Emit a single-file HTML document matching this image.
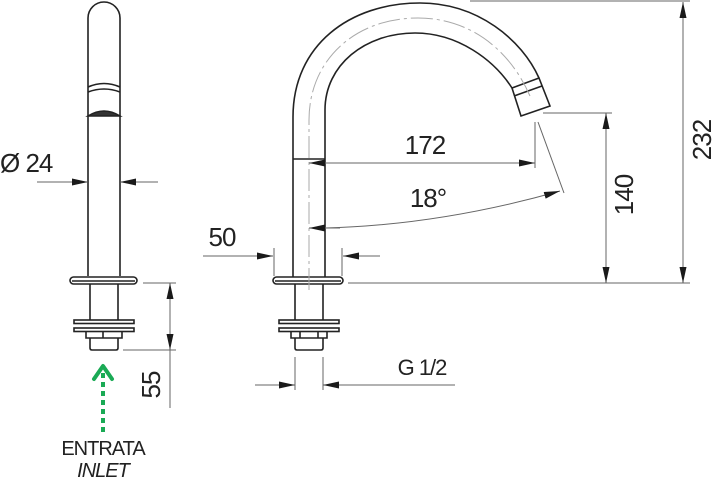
<!DOCTYPE html>
<html><head><style>html,body{margin:0;padding:0;background:#fff}svg{display:block}</style></head><body>
<svg width="712" height="480" viewBox="0 0 712 480" xmlns="http://www.w3.org/2000/svg" font-family="Liberation Sans, sans-serif">
<defs>
<marker id="a" viewBox="0 0 16 7" refX="16" refY="3.5" markerWidth="16" markerHeight="7" markerUnits="userSpaceOnUse" orient="auto"><path d="M0,0L16,3.5L0,7z" fill="#1a1a1a"/></marker>
</defs>
<g fill="none" stroke="#222" stroke-width="1.6">
<path d="M88,276 L88,18 A16,16 0 0 1 120,18 L120,276"/>
<path d="M88,87 Q104,80 120,87 M88,92 Q104,86 120,92"/>
<path d="M88,116 Q104,106 120,116 Z" fill="#333"/>
<rect x="70" y="277" width="67" height="7" rx="3.5" fill="#fff"/>
<line x1="72" y1="281" x2="135" y2="281"/>
<path d="M90,284 L90,320 M118,284 L118,320"/>
<rect x="74" y="320" width="60" height="3.5" fill="#fff"/>
<rect x="74" y="328" width="60" height="3.5" fill="#fff"/>
<path d="M86,332 L86,338 L122,338 L122,332 M103,332 L103,338"/>
<path d="M90,338 L90,348 Q90,350 92,350 L116,350 Q118,350 118,348 L118,338"/>
<path d="M293,277 L293,117 C293,45 350,3 420,3 C478,3 522,40 539,78"/>
<path d="M325,277 L325,110 C325,65 365,33 415,33 C458,33 494,60 512,88"/>
<line x1="293" y1="159" x2="325" y2="159"/>
<path d="M512,88 L539,78 L550,106 L521,116 Z" fill="#fff"/>
<line x1="514" y1="96" x2="542" y2="86"/>
<rect x="273" y="277" width="70" height="7" rx="3.5" fill="#fff"/>
<line x1="275" y1="281" x2="341" y2="281"/>
<path d="M295,284 L295,320 M323,284 L323,320"/>
<rect x="279" y="320" width="60" height="3.5" fill="#fff"/>
<rect x="279" y="328" width="60" height="3.5" fill="#fff"/>
<path d="M291,332 L291,338 L327,338 L327,332 M300,332 L300,338 M318,332 L318,338"/>
<path d="M295,338 L295,348 Q295,350 297,350 L321,350 Q323,350 323,348 L323,338"/>
</g>
<path d="M309,290 L309,120 C309,60 355,18 418,18 C470,18 510,50 530,96" fill="none" stroke="#aaa" stroke-width="1" stroke-dasharray="22,4,3,4"/>
<g fill="none" stroke="#666" stroke-width="1">
<line x1="37" y1="182" x2="88" y2="182" marker-end="url(#a)"/>
<line x1="158" y1="182" x2="120" y2="182" marker-end="url(#a)"/>
<line x1="143" y1="283" x2="176" y2="283"/>
<line x1="123" y1="350" x2="176" y2="350"/>
<line x1="170" y1="350" x2="170" y2="408"/>
<line x1="170" y1="317" x2="170" y2="283" marker-end="url(#a)"/>
<line x1="170" y1="317" x2="170" y2="350" marker-end="url(#a)"/>
<line x1="535" y1="122" x2="535" y2="168"/>
<line x1="420" y1="163" x2="309" y2="163" marker-end="url(#a)"/>
<line x1="420" y1="163" x2="535" y2="163" marker-end="url(#a)"/>
<line x1="538" y1="122" x2="564" y2="193"/>
<path d="M325,228 Q440,225 560,191" marker-end="url(#a)"/>
<line x1="340" y1="228" x2="309" y2="228" marker-end="url(#a)"/>
<line x1="203" y1="256" x2="273" y2="256" marker-end="url(#a)"/>
<line x1="380" y1="256" x2="343" y2="256" marker-end="url(#a)"/>
<line x1="274" y1="248" x2="274" y2="276"/>
<line x1="342" y1="248" x2="342" y2="276"/>
<line x1="295" y1="357" x2="295" y2="390"/>
<line x1="323" y1="357" x2="323" y2="390"/>
<line x1="255" y1="385" x2="295" y2="385" marker-end="url(#a)"/>
<line x1="455" y1="385" x2="323" y2="385" marker-end="url(#a)"/>
<line x1="348" y1="283" x2="690" y2="283"/>
<line x1="543" y1="113" x2="612" y2="113"/>
<line x1="470" y1="1" x2="690" y2="1"/>
<line x1="606" y1="198" x2="606" y2="113" marker-end="url(#a)"/>
<line x1="606" y1="198" x2="606" y2="283" marker-end="url(#a)"/>
<line x1="683" y1="140" x2="683" y2="2" marker-end="url(#a)"/>
<line x1="683" y1="140" x2="683" y2="283" marker-end="url(#a)"/>
</g>
<line x1="103" y1="432" x2="103" y2="368" stroke="#1aaa55" stroke-width="4" stroke-dasharray="5,4"/>
<path d="M94,379 L103,366 L112,379" fill="none" stroke="#1aaa55" stroke-width="4" stroke-linecap="round" stroke-linejoin="round"/>
<g fill="#222" font-size="26" letter-spacing="-1">
<text x="0" y="172">Ø 24</text>
<text x="425" y="154" text-anchor="middle">172</text>
<text x="428" y="207" text-anchor="middle">18°</text>
<text x="222" y="246" text-anchor="middle">50</text>
<text x="422" y="375" text-anchor="middle" font-size="22">G 1/2</text>
<text transform="translate(160,385) rotate(-90)" text-anchor="middle">55</text>
<text transform="translate(633,195) rotate(-90)" text-anchor="middle">140</text>
<text transform="translate(711,140) rotate(-90)" text-anchor="middle">232</text>
<text x="103" y="455" text-anchor="middle" font-size="20">ENTRATA</text>
<text x="103" y="477" text-anchor="middle" font-size="20" font-style="italic">INLET</text>
</g>
</svg>
</body></html>
